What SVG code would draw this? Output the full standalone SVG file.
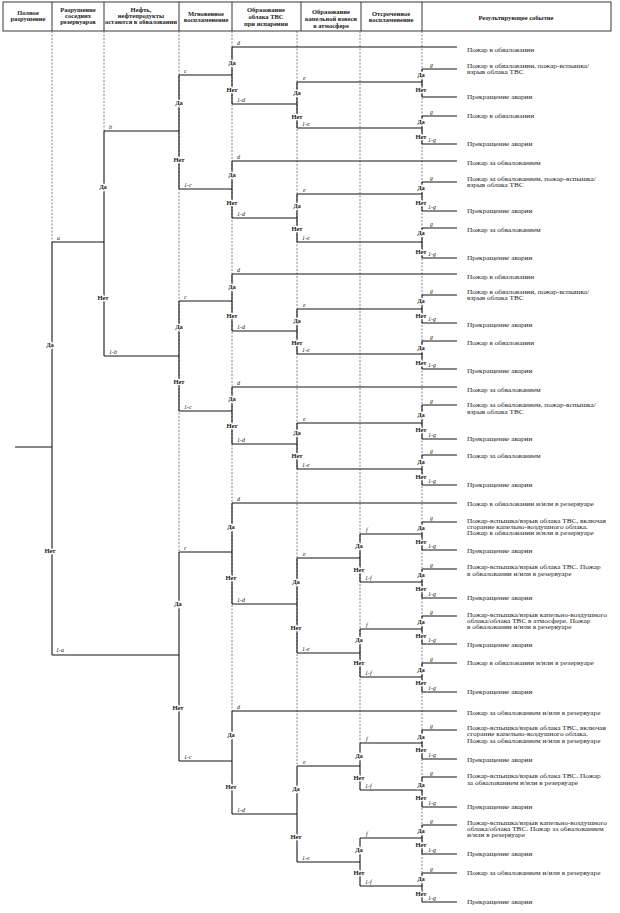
<svg xmlns="http://www.w3.org/2000/svg" width="620" height="913" viewBox="0 0 620 913">
<style>
.bg{fill:#fff}
.ln{stroke:#151515;stroke-width:1.1;fill:none}
.gd{stroke:#666;stroke-width:0.8;stroke-dasharray:2 1.5;fill:none}
.hd{stroke:#222;stroke-width:0.9;fill:none}
.ht{font-family:"Liberation Serif",serif;font-size:6.5px;fill:#222;text-anchor:middle;font-weight:bold}
.yn{font-family:"Liberation Serif",serif;font-size:6.5px;fill:#222;text-anchor:middle;font-weight:bold;paint-order:stroke;stroke:#fff;stroke-width:2.5px}
.br{font-family:"Liberation Serif",serif;font-size:6px;font-style:italic;fill:#222}
.ev{font-family:"Liberation Serif",serif;font-size:6.5px;fill:#222}
</style>
<rect class="bg" x="0" y="0" width="620" height="913"/>
<g id="header">
<rect class="hd" x="3" y="2" width="608" height="29"/>
<path class="hd" d="M52 2V31M104 2V31M179 2V31M232 2V31M301 2V31M361 2V31M422 2V31"/>
<text class="ht" x="28" y="15">Полное</text><text class="ht" x="28" y="21">разрушение</text>
<text class="ht" x="78" y="12">Разрушение</text><text class="ht" x="78" y="18">соседних</text><text class="ht" x="78" y="24">резервуаров</text>
<text class="ht" x="141" y="12">Нефть,</text><text class="ht" x="141" y="18">нефтепродукты</text><text class="ht" x="141" y="24">остаются в обваловании</text>
<text class="ht" x="206" y="16">Мгновенное</text><text class="ht" x="206" y="22">воспламенение</text>
<text class="ht" x="266" y="12">Образование</text><text class="ht" x="266" y="19">облака ТВС</text><text class="ht" x="266" y="26">при испарении</text>
<text class="ht" x="331" y="14">Образование</text><text class="ht" x="331" y="21">капельной взвеси</text><text class="ht" x="331" y="28">в атмосфере</text>
<text class="ht" x="391" y="16">Отсроченное</text><text class="ht" x="391" y="22">воспламенение</text>
<text class="ht" x="516" y="20">Результирующее событие</text>
</g>
<g id="guides">
<path class="gd" d="M52 31V242M104 31V131M179 31V552M232 31V711M297 31V766M360 31V743M422 31V886"/>
</g>
<g id="connectors">
<path class="ln" d="M15 447H52M52 242H104M52 655H179M104 131H179M104 356H179M179 75H232M179 189H232M179 301H232M179 411H232M179 552H232M179 761H232M232 47H457M232 104H297M232 161H457M232 218H297M232 274H457M232 331H297M232 387H457M232 444H297M232 503H457M232 604H297M232 711H457M232 814H297M297 82H422M297 128H422M297 194H422M297 242H422M297 309H422M297 354H422M297 423H422M297 469H422M297 558H360M297 653H360M297 766H360M297 862H360M360 534H422M360 582H422M360 629H422M360 677H422M360 743H422M360 790H422M360 838H422M360 886H422"/>
<path class="ln" d="M422 69H457M422 97H457M422 116H457M422 144H457M422 182H457M422 211H457M422 228H457M422 258H457M422 295H457M422 323H457M422 341H457M422 369H457M422 405H457M422 439H457M422 455H457M422 485H457M422 522H457M422 550H457M422 569H457M422 598H457M422 616H457M422 644H457M422 663H457M422 692H457M422 730H457M422 759H457M422 777H457M422 807H457M422 825H457M422 854H457M422 873H457M422 902H457"/>
<text class="br" x="57" y="240">a</text><text class="br" x="56" y="652">1-a</text>
<text class="br" x="109" y="129">b</text><text class="br" x="109" y="354">1-b</text>
<text class="br" x="184" y="73">c</text><text class="br" x="184" y="187">1-c</text>
<text class="br" x="184" y="299">c</text><text class="br" x="184" y="409">1-c</text>
<text class="br" x="184" y="550">c</text><text class="br" x="184" y="759">1-c</text>
<text class="br" x="237" y="45">d</text><text class="br" x="237" y="102">1-d</text>
<text class="br" x="237" y="159">d</text><text class="br" x="237" y="216">1-d</text>
<text class="br" x="237" y="272">d</text><text class="br" x="237" y="329">1-d</text>
<text class="br" x="237" y="385">d</text><text class="br" x="237" y="442">1-d</text>
<text class="br" x="237" y="501">d</text><text class="br" x="237" y="602">1-d</text>
<text class="br" x="237" y="709">d</text><text class="br" x="237" y="812">1-d</text>
<text class="br" x="303" y="80">e</text><text class="br" x="302" y="126">1-e</text>
<text class="br" x="303" y="192">e</text><text class="br" x="302" y="240">1-e</text>
<text class="br" x="303" y="307">e</text><text class="br" x="302" y="352">1-e</text>
<text class="br" x="303" y="421">e</text><text class="br" x="302" y="467">1-e</text>
<text class="br" x="303" y="556">e</text><text class="br" x="302" y="651">1-e</text>
<text class="br" x="303" y="764">e</text><text class="br" x="302" y="860">1-e</text>
<text class="br" x="366" y="532">f</text><text class="br" x="365" y="580">1-f</text>
<text class="br" x="366" y="627">f</text><text class="br" x="365" y="675">1-f</text>
<text class="br" x="366" y="741">f</text><text class="br" x="365" y="788">1-f</text>
<text class="br" x="366" y="836">f</text><text class="br" x="365" y="884">1-f</text>
<text class="br" x="430" y="67">g</text>
<text class="br" x="430" y="114">g</text><text class="br" x="428" y="142">1-g</text>
<text class="br" x="430" y="180">g</text><text class="br" x="428" y="209">1-g</text>
<text class="br" x="430" y="226">g</text><text class="br" x="428" y="256">1-g</text>
<text class="br" x="430" y="293">g</text><text class="br" x="428" y="321">1-g</text>
<text class="br" x="430" y="339">g</text><text class="br" x="428" y="367">1-g</text>
<text class="br" x="430" y="403">g</text><text class="br" x="428" y="437">1-g</text>
<text class="br" x="430" y="453">g</text><text class="br" x="428" y="483">1-g</text>
<text class="br" x="430" y="520">g</text><text class="br" x="428" y="548">1-g</text>
<text class="br" x="430" y="567">g</text><text class="br" x="428" y="596">1-g</text>
<text class="br" x="430" y="614">g</text><text class="br" x="428" y="642">1-g</text>
<text class="br" x="430" y="661">g</text><text class="br" x="428" y="690">1-g</text>
<text class="br" x="430" y="728">g</text><text class="br" x="428" y="757">1-g</text>
<text class="br" x="430" y="775">g</text><text class="br" x="428" y="805">1-g</text>
<text class="br" x="430" y="823">g</text><text class="br" x="428" y="852">1-g</text>
<text class="br" x="430" y="871">g</text><text class="br" x="428" y="900">1-g</text>
</g>
<g id="n-a"><path class="ln" d="M52 242V655"/><text class="yn" x="50" y="347">Да</text><text class="yn" x="50" y="553">Нет</text></g>
<g id="n-b"><path class="ln" d="M104 131V356"/><text class="yn" x="103" y="189">Да</text><text class="yn" x="103" y="300">Нет</text></g>
<g id="n-c1"><path class="ln" d="M179 75V189"/><text class="yn" x="179" y="105">Да</text><text class="yn" x="179" y="162">Нет</text></g>
<g id="n-c2"><path class="ln" d="M179 301V411"/><text class="yn" x="179" y="329">Да</text><text class="yn" x="179" y="384">Нет</text></g>
<g id="n-c3"><path class="ln" d="M179 552V761"/><text class="yn" x="178" y="606">Да</text><text class="yn" x="178" y="710">Нет</text></g>
<g id="n-d1"><path class="ln" d="M232 47V104"/><text class="yn" x="232" y="65">Да</text><text class="yn" x="232" y="92">Нет</text></g>
<g id="n-d2"><path class="ln" d="M232 161V218"/><text class="yn" x="232" y="177">Да</text><text class="yn" x="232" y="205">Нет</text></g>
<g id="n-d3"><path class="ln" d="M232 274V331"/><text class="yn" x="232" y="289">Да</text><text class="yn" x="232" y="318">Нет</text></g>
<g id="n-d4"><path class="ln" d="M232 387V444"/><text class="yn" x="232" y="401">Да</text><text class="yn" x="232" y="428">Нет</text></g>
<g id="n-d5"><path class="ln" d="M232 503V604"/><text class="yn" x="231" y="529">Да</text><text class="yn" x="231" y="580">Нет</text></g>
<g id="n-d6"><path class="ln" d="M232 711V814"/><text class="yn" x="231" y="737">Да</text><text class="yn" x="231" y="789">Нет</text></g>
<g id="n-e1"><path class="ln" d="M297 82V128"/><text class="yn" x="297" y="95">Да</text><text class="yn" x="297" y="119">Нет</text></g>
<g id="n-e2"><path class="ln" d="M297 194V242"/><text class="yn" x="297" y="208">Да</text><text class="yn" x="297" y="231">Нет</text></g>
<g id="n-e3"><path class="ln" d="M297 309V354"/><text class="yn" x="297" y="323">Да</text><text class="yn" x="297" y="345">Нет</text></g>
<g id="n-e4"><path class="ln" d="M297 423V469"/><text class="yn" x="297" y="435">Да</text><text class="yn" x="297" y="458">Нет</text></g>
<g id="n-e5"><path class="ln" d="M297 558V653"/><text class="yn" x="296" y="584">Да</text><text class="yn" x="296" y="630">Нет</text></g>
<g id="n-e6"><path class="ln" d="M297 766V862"/><text class="yn" x="296" y="791">Да</text><text class="yn" x="296" y="839">Нет</text></g>
<g id="n-f1"><path class="ln" d="M360 534V582"/><text class="yn" x="359" y="548">Да</text><text class="yn" x="359" y="572">Нет</text></g>
<g id="n-f2"><path class="ln" d="M360 629V677"/><text class="yn" x="359" y="642">Да</text><text class="yn" x="359" y="665">Нет</text></g>
<g id="n-f3"><path class="ln" d="M360 743V790"/><text class="yn" x="359" y="758">Да</text><text class="yn" x="359" y="780">Нет</text></g>
<g id="n-f4"><path class="ln" d="M360 838V886"/><text class="yn" x="359" y="852">Да</text><text class="yn" x="359" y="875">Нет</text></g>
<g id="n-g1"><path class="ln" d="M422 69V97"/><text class="yn" x="421" y="77">Да</text><text class="yn" x="421" y="92">Нет</text></g>
<g id="n-g2"><path class="ln" d="M422 116V144"/><text class="yn" x="421" y="124">Да</text><text class="yn" x="421" y="139">Нет</text></g>
<g id="n-g3"><path class="ln" d="M422 182V211"/><text class="yn" x="421" y="190">Да</text><text class="yn" x="421" y="205">Нет</text></g>
<g id="n-g4"><path class="ln" d="M422 228V258"/><text class="yn" x="421" y="235">Да</text><text class="yn" x="421" y="254">Нет</text></g>
<g id="n-g5"><path class="ln" d="M422 295V323"/><text class="yn" x="421" y="303">Да</text><text class="yn" x="421" y="318">Нет</text></g>
<g id="n-g6"><path class="ln" d="M422 341V369"/><text class="yn" x="421" y="350">Да</text><text class="yn" x="421" y="365">Нет</text></g>
<g id="n-g7"><path class="ln" d="M422 405V439"/><text class="yn" x="421" y="417">Да</text><text class="yn" x="421" y="432">Нет</text></g>
<g id="n-g8"><path class="ln" d="M422 455V485"/><text class="yn" x="421" y="464">Да</text><text class="yn" x="421" y="479">Нет</text></g>
<g id="n-g9"><path class="ln" d="M422 522V550"/><text class="yn" x="421" y="530">Да</text><text class="yn" x="421" y="544">Нет</text></g>
<g id="n-g10"><path class="ln" d="M422 569V598"/><text class="yn" x="421" y="577">Да</text><text class="yn" x="421" y="591">Нет</text></g>
<g id="n-g11"><path class="ln" d="M422 616V644"/><text class="yn" x="421" y="624">Да</text><text class="yn" x="421" y="638">Нет</text></g>
<g id="n-g12"><path class="ln" d="M422 663V692"/><text class="yn" x="421" y="672">Да</text><text class="yn" x="421" y="685">Нет</text></g>
<g id="n-g13"><path class="ln" d="M422 730V759"/><text class="yn" x="421" y="739">Да</text><text class="yn" x="421" y="752">Нет</text></g>
<g id="n-g14"><path class="ln" d="M422 777V807"/><text class="yn" x="421" y="787">Да</text><text class="yn" x="421" y="800">Нет</text></g>
<g id="n-g15"><path class="ln" d="M422 825V854"/><text class="yn" x="421" y="833">Да</text><text class="yn" x="421" y="847">Нет</text></g>
<g id="n-g16"><path class="ln" d="M422 873V902"/><text class="yn" x="421" y="881">Да</text><text class="yn" x="421" y="896">Нет</text></g>
<g id="events" transform="translate(467 0) scale(1.12 1)">
<g id="ev1"><text class="ev" x="0" y="52">Пожар в обваловании</text></g>
<g id="ev2"><text class="ev" x="0" y="68">Пожар в обваловании, пожар-вспышка/</text><text class="ev" x="0" y="74">взрыв облака ТВС</text></g>
<g id="ev3"><text class="ev" x="0" y="99">Прекращение аварии</text></g>
<g id="ev4"><text class="ev" x="0" y="118">Пожар в обваловании</text></g>
<g id="ev5"><text class="ev" x="0" y="146">Прекращение аварии</text></g>
<g id="ev6"><text class="ev" x="0" y="165">Пожар за обвалованием</text></g>
<g id="ev7"><text class="ev" x="0" y="181">Пожар за обвалованием, пожар-вспышка/</text><text class="ev" x="0" y="187">взрыв облака ТВС</text></g>
<g id="ev8"><text class="ev" x="0" y="213">Прекращение аварии</text></g>
<g id="ev9"><text class="ev" x="0" y="232">Пожар за обвалованием</text></g>
<g id="ev10"><text class="ev" x="0" y="260">Прекращение аварии</text></g>
<g id="ev11"><text class="ev" x="0" y="279">Пожар в обваловании</text></g>
<g id="ev12"><text class="ev" x="0" y="294">Пожар в обваловании, пожар-вспышка/</text><text class="ev" x="0" y="300">взрыв облака ТВС</text></g>
<g id="ev13"><text class="ev" x="0" y="327">Прекращение аварии</text></g>
<g id="ev14"><text class="ev" x="0" y="345">Пожар в обваловании</text></g>
<g id="ev15"><text class="ev" x="0" y="373">Прекращение аварии</text></g>
<g id="ev16"><text class="ev" x="0" y="392">Пожар за обвалованием</text></g>
<g id="ev17"><text class="ev" x="0" y="407">Пожар за обвалованием, пожар-вспышка/</text><text class="ev" x="0" y="414">взрыв облака ТВС</text></g>
<g id="ev18"><text class="ev" x="0" y="441">Прекращение аварии</text></g>
<g id="ev19"><text class="ev" x="0" y="458">Пожар за обвалованием</text></g>
<g id="ev20"><text class="ev" x="0" y="487">Прекращение аварии</text></g>
<g id="ev21"><text class="ev" x="0" y="506">Пожар в обваловании и/или в резервуаре</text></g>
<g id="ev22"><text class="ev" x="0" y="523">Пожар-вспышка/взрыв облака ТВС, включая</text><text class="ev" x="0" y="529">сгорание капельно-воздушного облака.</text><text class="ev" x="0" y="535">Пожар в обваловании и/или в резервуаре</text></g>
<g id="ev23"><text class="ev" x="0" y="553">Прекращение аварии</text></g>
<g id="ev24"><text class="ev" x="0" y="569">Пожар-вспышка/взрыв облака ТВС. Пожар</text><text class="ev" x="0" y="576">в обваловании и/или в резервуаре</text></g>
<g id="ev25"><text class="ev" x="0" y="600">Прекращение аварии</text></g>
<g id="ev26"><text class="ev" x="0" y="617">Пожар-вспышка/взрыв капельно-воздушного</text><text class="ev" x="0" y="623">облака/облака ТВС в атмосфере. Пожар</text><text class="ev" x="0" y="629">в обваловании и/или в резервуаре</text></g>
<g id="ev27"><text class="ev" x="0" y="647">Прекращение аварии</text></g>
<g id="ev28"><text class="ev" x="0" y="665">Пожар в обваловании и/или в резервуаре</text></g>
<g id="ev29"><text class="ev" x="0" y="694">Прекращение аварии</text></g>
<g id="ev30"><text class="ev" x="0" y="715">Пожар за обвалованием и/или в резервуаре</text></g>
<g id="ev31"><text class="ev" x="0" y="730">Пожар-вспышка/взрыв облака ТВС, включая</text><text class="ev" x="0" y="736.5">сгорание капельно-воздушного облака.</text><text class="ev" x="0" y="743">Пожар за обвалованием и/или в резервуаре</text></g>
<g id="ev32"><text class="ev" x="0" y="762">Прекращение аварии</text></g>
<g id="ev33"><text class="ev" x="0" y="778">Пожар-вспышка/взрыв облака ТВС. Пожар</text><text class="ev" x="0" y="785">за обвалованием и/или в резервуаре</text></g>
<g id="ev34"><text class="ev" x="0" y="809">Прекращение аварии</text></g>
<g id="ev35"><text class="ev" x="0" y="825">Пожар-вспышка/взрыв капельно-воздушного</text><text class="ev" x="0" y="831">облака/облака ТВС. Пожар за обвалованием</text><text class="ev" x="0" y="837">и/или в резервуаре</text></g>
<g id="ev36"><text class="ev" x="0" y="856">Прекращение аварии</text></g>
<g id="ev37"><text class="ev" x="0" y="875">Пожар за обвалованием и/или в резервуаре</text></g>
<g id="ev38"><text class="ev" x="0" y="904">Прекращение аварии</text></g>
</g>
</svg>
